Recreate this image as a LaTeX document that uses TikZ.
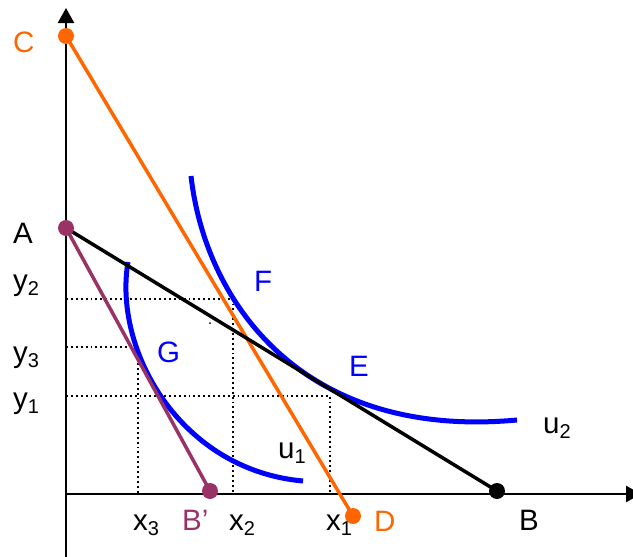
\documentclass[tikz,border=0pt]{standalone}
\usepackage{fontspec}
\setmainfont{Liberation Sans}
\usetikzlibrary{arrows.meta}
\definecolor{myorange}{HTML}{FF6600}
\definecolor{mypurple}{HTML}{993366}
\definecolor{myblue}{HTML}{0000FF}
\newcommand{\sbs}[1]{\raisebox{-5pt}{\fontsize{20}{20}\selectfont #1}}
\begin{document}
\begin{tikzpicture}[x=1pt,y=-1pt,
  axis/.style={line width=2.5pt,-{Triangle[length=15pt,width=16pt]}},
  lbl/.style={anchor=base west,inner sep=0pt,font=\fontsize{29.5}{30}\selectfont},
  dot/.style={circle,inner sep=0pt,minimum size=16pt},
  guide/.style={line width=1.9pt,dash pattern=on 1.9pt off 3pt},
  seg/.style={line width=3.5pt},
  curve/.style={myblue,line width=5pt}]
\useasboundingbox (0,0) rectangle (633,557);
% axes
\coordinate (O) at (66,494);
\coordinate (Ytop) at (66,8);
\coordinate (Ybot) at (66,562);
\coordinate (Xend) at (641,494);
\draw[axis] (Ybot) -- (Ytop);
\draw[axis] (O) -- (Xend);
% guides
\coordinate (Y2) at (66,299); \coordinate (P2) at (233,299); \coordinate (X2) at (233,494);
\coordinate (Y3) at (66,347); \coordinate (P3) at (138,347); \coordinate (X3) at (138,494);
\coordinate (Y1) at (66,396); \coordinate (P1) at (330,396); \coordinate (X1) at (330,494);
\draw[guide] (Y2) -- (P2) -- (X2);
\draw[guide] (Y3) -- (P3) -- (X3);
\draw[guide] (Y1) -- (P1) -- (X1);
\fill (210,323) circle (1pt);
% points
\coordinate (C) at (66,36);
\coordinate (A) at (66,228);
\coordinate (D) at (353,516);
\coordinate (B) at (497,491);
\coordinate (Bp) at (210,491);
% indifference curves
\coordinate (u2s) at (191,176); \coordinate (u2e) at (517,420);
\coordinate (u1s) at (128,262); \coordinate (u1e) at (303,481);
\draw[curve] (u2s) .. controls (205,300) and (300,440) .. (u2e);
\draw[curve] (u1s) .. controls (113,350) and (180,470) .. (u1e);
% budget lines
\draw[seg,myorange] (C) -- (D);
\draw[seg,black] (A) -- (B);
\draw[seg,mypurple] (A) -- (Bp);
% dots
\node[dot,fill=myorange] (dC) at (C) {};
\node[dot,fill=myorange] (dD) at (D) {};
\node[dot,fill=mypurple] (dA) at (A) {};
\node[dot,fill=mypurple] (dBp) at (Bp) {};
\node[dot,fill=black] (dB) at (B) {};
% labels
\node[lbl,myorange] (lC) at (13,52) {C};
\node[lbl] (lA) at (13,243) {A};
\node[lbl] (ly2) at (13,290) {y\sbs{2}};
\node[lbl] (ly3) at (13,362) {y\sbs{3}};
\node[lbl] (ly1) at (13,408) {y\sbs{1}};
\node[lbl] (lx3) at (133,530) {x\sbs{3}};
\node[lbl,mypurple] (lBp) at (182,530) {B’};
\node[lbl] (lx2) at (229,530) {x\sbs{2}};
\node[lbl] (lx1) at (326,530) {x\sbs{1}};
\node[lbl,myorange] (lD) at (374,531) {D};
\node[lbl] (lB) at (519,530) {B};
\node[lbl] (lu1) at (278,458) {u\sbs{1}};
\node[lbl] (lu2) at (543,433) {u\sbs{2}};
\node[lbl,myblue] (lF) at (254,291) {F};
\node[lbl,myblue] (lG) at (157,362) {G};
\node[lbl,myblue] (lE) at (349,376) {E};
\end{tikzpicture}
\end{document}
